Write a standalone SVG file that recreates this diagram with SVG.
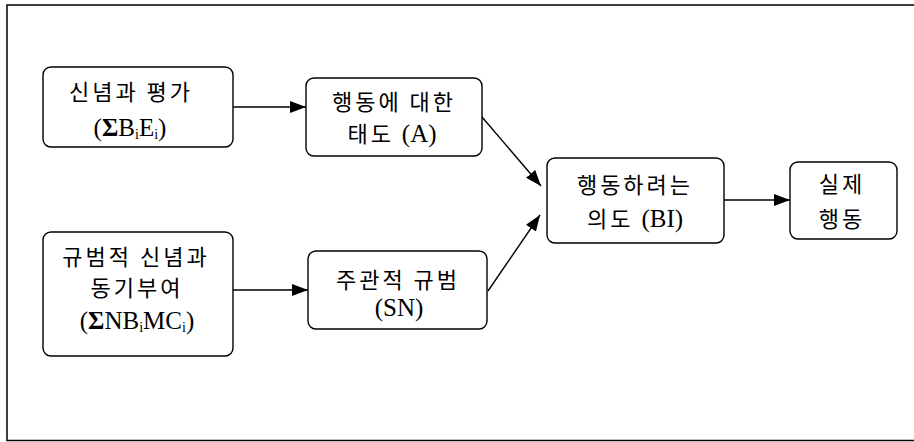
<svg xmlns="http://www.w3.org/2000/svg" width="914" height="442" viewBox="0 0 914 442">
<style>
.box{fill:#fff;stroke:#000;stroke-width:1.4}
.kr{font-family:"Noto Sans CJK KR","Noto Sans",sans-serif;font-size:22px;fill:#000;text-anchor:middle;letter-spacing:3px}
.lt{font-family:"Liberation Serif",serif;font-size:25px;letter-spacing:0}
.sg{font-weight:bold}
.sub{font-family:"Liberation Serif",serif;font-size:14px;letter-spacing:0}
.edge{stroke:#000;stroke-width:1.4;fill:none;marker-end:url(#ah)}
</style>
<defs>
<marker id="ah" viewBox="0 0 16 12" refX="16" refY="6" markerWidth="16" markerHeight="12" markerUnits="userSpaceOnUse" orient="auto">
<path d="M0,0 L16,6 L0,12 Z" fill="#000"/>
</marker>
</defs>
<rect x="7" y="5" width="930" height="435.5" fill="#fff" stroke="#000" stroke-width="1.5"/>
<g id="connectors">
<line class="edge" x1="233" y1="107" x2="306" y2="107"/>
<line class="edge" x1="233" y1="290" x2="308" y2="290"/>
<line class="edge" x1="482" y1="117" x2="541" y2="186"/>
<line class="edge" x1="488" y1="291" x2="540" y2="215"/>
<line class="edge" x1="724" y1="200" x2="790" y2="200"/>
</g>
<g id="n1">
<rect class="box" x="43" y="67" width="190" height="80" rx="8"/>
<text class="kr" x="131" y="100">신념과 평가</text>
<text class="kr" x="130" y="136"><tspan class="lt">(</tspan><tspan class="lt sg">Σ</tspan><tspan class="lt">B</tspan><tspan class="sub" dy="3">i</tspan><tspan class="lt" dy="-3">E</tspan><tspan class="sub" dy="3">i</tspan><tspan class="lt" dy="-3">)</tspan></text>
</g>
<g id="n2">
<rect class="box" x="43" y="232" width="190" height="124" rx="8"/>
<text class="kr" x="136" y="265">규범적 신념과</text>
<text class="kr" x="137" y="296">동기부여</text>
<text class="kr" x="137" y="329"><tspan class="lt">(</tspan><tspan class="lt sg">Σ</tspan><tspan class="lt">NB</tspan><tspan class="sub" dy="3">i</tspan><tspan class="lt" dy="-3">MC</tspan><tspan class="sub" dy="3">i</tspan><tspan class="lt" dy="-3">)</tspan></text>
</g>
<g id="n3">
<rect class="box" x="306" y="78" width="176" height="78" rx="8"/>
<text class="kr" x="394" y="110">행동에 대한</text>
<text class="kr" x="392" y="142">태도 <tspan class="lt">(A)</tspan></text>
</g>
<g id="n4">
<rect class="box" x="308" y="251" width="179" height="78" rx="8"/>
<text class="kr" x="398" y="288">주관적 규범</text>
<text class="kr" x="399" y="316"><tspan class="lt">(SN)</tspan></text>
</g>
<g id="n5">
<rect class="box" x="547" y="158" width="177" height="85" rx="8"/>
<text class="kr" x="635" y="193">행동하려는</text>
<text class="kr" x="635" y="227">의도 <tspan class="lt">(BI)</tspan></text>
</g>
<g id="n6">
<rect class="box" x="790" y="162" width="107" height="77" rx="8"/>
<text class="kr" x="842" y="192">실제</text>
<text class="kr" x="842" y="227">행동</text>
</g>
</svg>
